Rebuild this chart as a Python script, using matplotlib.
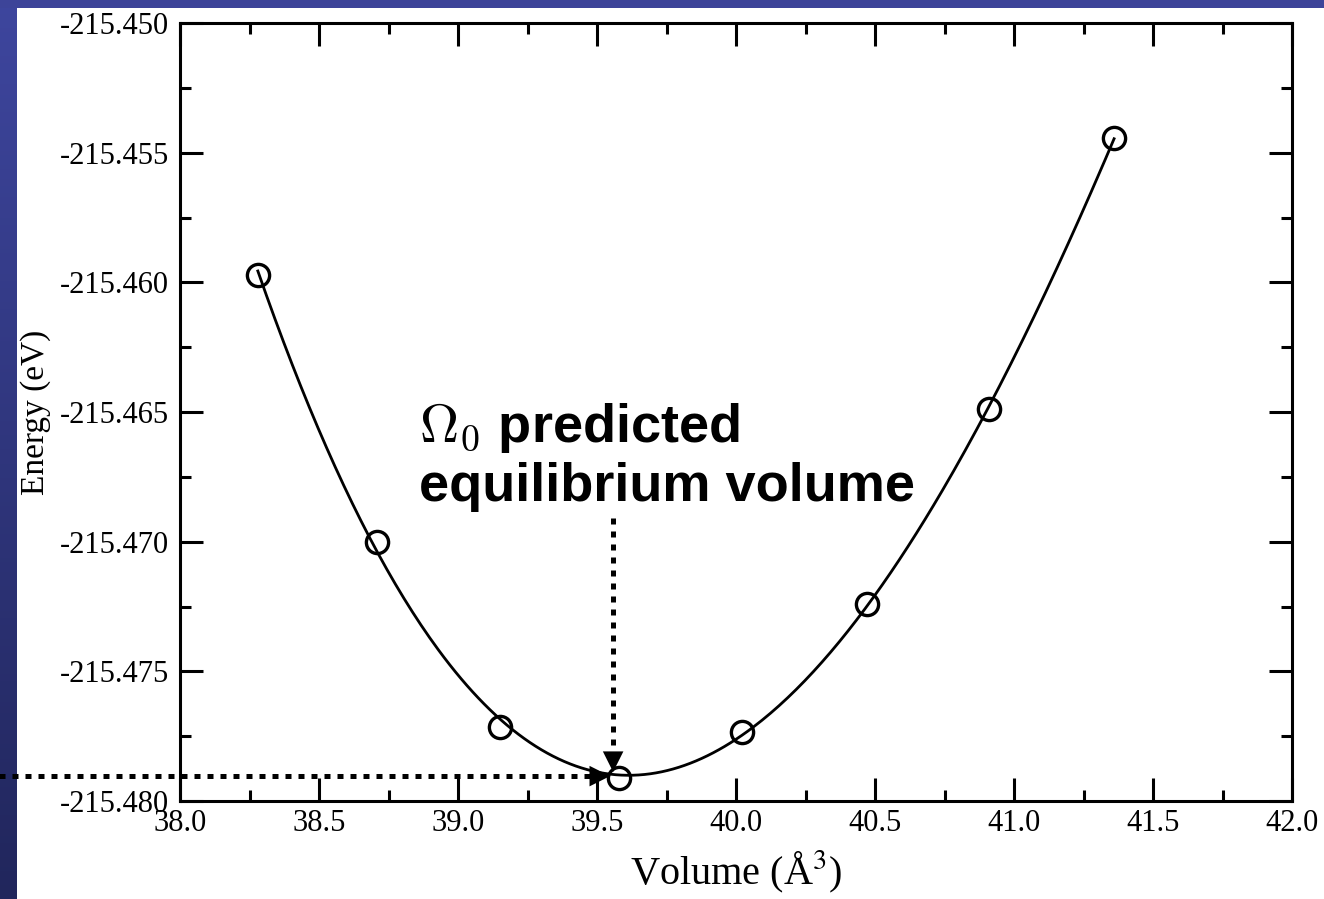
import matplotlib
matplotlib.use('Agg')
import matplotlib.pyplot as plt
import numpy as np
from matplotlib.ticker import MultipleLocator, FormatStrFormatter

plt.rcParams['font.family'] = ['Liberation Serif', 'DejaVu Serif']
plt.rcParams['axes.unicode_minus'] = False

# data
volume = [38.28, 38.71, 39.15, 39.58, 40.02, 40.47, 40.91, 41.36]
energy = [-215.4597, -215.4700, -215.47714, -215.47911, -215.47734, -215.47239, -215.46490, -215.45444]

# equilibrium arrows (data coords)
v0_arrow_x = 39.558
e0_arrow_y = -215.47904

fig = plt.figure(figsize=(13.24, 8.99), dpi=100)
fig.patch.set_facecolor('white')

# slide background strips (left gradient + top band)
grad = np.linspace(0, 1, 256).reshape(-1, 1)
bg_left = fig.add_axes([0, 0, 17 / 1324, 1])
bg_left.imshow(grad, aspect='auto', cmap=matplotlib.colors.LinearSegmentedColormap.from_list(
    'slide', ['#3e469e', '#21265c']), extent=[0, 1, 0, 1])
bg_left.set_axis_off()
bg_top = fig.add_axes([0, 1 - 8 / 899, 1, 8 / 899])
bg_top.set_facecolor('#3d4499')
bg_top.set_xticks([])
bg_top.set_yticks([])
for s in bg_top.spines.values():
    s.set_visible(False)

ax = fig.add_axes([180 / 1324, 1 - 801 / 899, 1112 / 1324, 778 / 899])

# fitted curve through the points
coef = np.polyfit(volume, energy, 3)
vv = np.linspace(volume[0], volume[-1], 300)
ax.plot(vv, np.polyval(coef, vv), color='black', lw=2.0, zorder=3)
ax.plot(volume, energy, 'o', mfc='none', mec='black', ms=16, mew=2.4, zorder=4)

ax.set_xlim(38.0, 42.0)
ax.set_ylim(-215.480, -215.450)
ax.xaxis.set_major_locator(MultipleLocator(0.5))
ax.xaxis.set_minor_locator(MultipleLocator(0.25))
ax.yaxis.set_major_locator(MultipleLocator(0.005))
ax.yaxis.set_minor_locator(MultipleLocator(0.0025))
ax.xaxis.set_major_formatter(FormatStrFormatter('%.1f'))
ax.yaxis.set_major_formatter(FormatStrFormatter('%.3f'))
ax.tick_params(which='both', direction='in', top=True, right=True, width=2.2, labelsize=22)
ax.tick_params(which='major', length=16.5)
ax.tick_params(which='minor', length=8)
ax.tick_params(axis='x', pad=6)
ax.tick_params(axis='y', pad=8)
for s in ax.spines.values():
    s.set_linewidth(2.2)

ax.set_xlabel('Volume (Å$^3$)', fontsize=29, math_fontfamily='stix')
ax.xaxis.set_label_coords(0.5, -0.062)
ax.set_ylabel('Energy (eV)', fontsize=24)
ax.yaxis.set_label_coords(-0.116, 0.5)

# annotation text
ax.text(38.86, -215.46616, r'$\Omega_0$ predicted', fontsize=39, fontweight='bold',
        family='Liberation Sans', math_fontfamily='cm', va='baseline', ha='left')
ax.text(38.86, -215.46845, 'equilibrium volume', fontsize=39, fontweight='bold',
        family='Liberation Sans', va='baseline', ha='left')

# dotted arrows
dot = dict(color='black', lw=3.6, linestyle=(0, (1.2, 1.4)), dash_capstyle='butt',
           clip_on=False, zorder=5)
ax.plot([v0_arrow_x, v0_arrow_x], [-215.46909, -215.47823], **dot)
ax.plot([37.35, 39.482], [e0_arrow_y, e0_arrow_y], **dot)
head = dict(arrowstyle='-|>', mutation_scale=37, lw=0, color='black', shrinkA=0, shrinkB=0)
ax.annotate('', xy=(v0_arrow_x, -215.47888), xytext=(v0_arrow_x, -215.47823),
            arrowprops=head, annotation_clip=False)
ax.annotate('', xy=(39.547, e0_arrow_y), xytext=(39.482, e0_arrow_y),
            arrowprops=head, annotation_clip=False)

fig.savefig('out.png', dpi=100)
